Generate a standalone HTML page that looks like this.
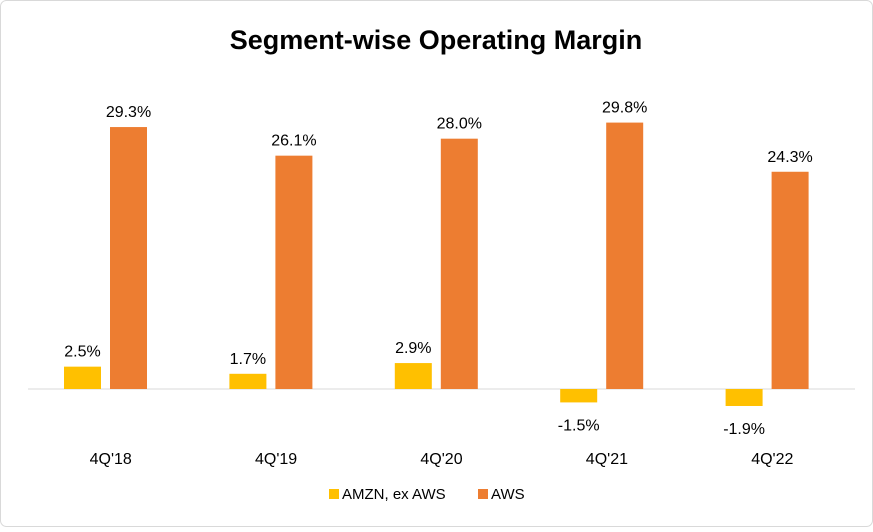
<!DOCTYPE html>
<html><head><meta charset="utf-8"><style>
body{margin:0;background:#fff;font-family:"Liberation Sans",Arial,sans-serif}
</style></head><body>
<svg width="873" height="527" xmlns="http://www.w3.org/2000/svg">
<rect x="0.5" y="0.5" width="872" height="526" rx="6" fill="#fff" stroke="#d9d9d9"/>
<text x="436" y="49" text-anchor="middle" font-size="27" font-weight="bold" fill="#000">Segment-wise Operating Margin</text>
<line x1="28" y1="389" x2="855" y2="389" stroke="#d9d9d9"/>
<g id="bars"></g>
<g>
<rect x="329" y="489" width="10" height="10" fill="#FFC000"/>
<text x="342" y="499" font-size="15" fill="#000">AMZN, ex AWS</text>
<rect x="478" y="489" width="10" height="10" fill="#ED7D31"/>
<text x="491" y="499" font-size="15" fill="#000">AWS</text>
</g>
</svg>
<script>
const categories=["4Q'18","4Q'19","4Q'20","4Q'21","4Q'22"];
const amzn=[2.5,1.7,2.9,-1.5,-1.9];
const aws=[29.3,26.1,28.0,29.8,24.3];
const NS="http://www.w3.org/2000/svg";
const g=document.getElementById('bars');
const left=28,right=855,base=389,scale=8.94;
const gw=(right-left)/categories.length;
const y=v=>base-v*scale;
function mk(t,a){const e=document.createElementNS(NS,t);for(const k in a)e.setAttribute(k,a[k]);g.appendChild(e);return e;}
categories.forEach((c,i)=>{
  const x0=left+i*gw;
  const series=[[amzn[i],'#FFC000',36,'amzn'],[aws[i],'#ED7D31',82,'aws']];
  series.forEach(([v,col,off,nm])=>{
    const top=Math.min(y(v),base),h=Math.abs(y(v)-base);
    const r=mk('rect',{x:x0+off,y:top,width:37,height:h,fill:col});
    
    
    const ty=v>=0?y(v)-10:y(v)+28;
    const t=mk('text',{x:x0+off+18.5,y:ty,'text-anchor':'middle','font-size':16,fill:'#000'});
    t.textContent=v.toFixed(1)+'%';
    
    
  });
  const l=mk('text',{x:x0+gw/2,y:464,'text-anchor':'middle','font-size':16,fill:'#000'});
  l.textContent=c;
  
  
});
</script>
</body></html>
